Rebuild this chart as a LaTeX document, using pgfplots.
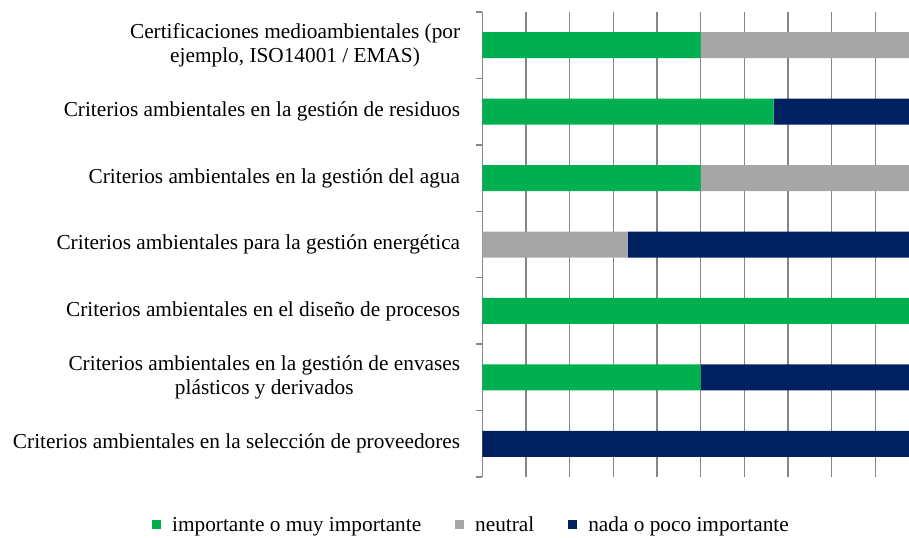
\documentclass[border=0pt]{standalone}
\usepackage{fontspec}
\setmainfont{Liberation Serif}
\usepackage{pgfplots}
\pgfplotsset{compat=1.18}

\definecolor{cgreen}{HTML}{00B050}
\definecolor{cgray}{HTML}{A6A6A6}
\definecolor{cnavy}{HTML}{002060}
\definecolor{cgrid}{HTML}{868686}

\newcommand{\lblfont}{\fontsize{21.3bp}{24.5bp}\selectfont}

\begin{document}
\begin{tikzpicture}
\useasboundingbox (0,0) rectangle (909bp,538bp);
\begin{axis}[
    at={(482.3bp,61bp)}, anchor=south west,
    scale only axis,
    width=426.7bp, height=465bp,
    xbar stacked,
    bar width=26bp,
    xmin=0, xmax=97.7,
    ymin=-0.5, ymax=6.5,
    axis lines*=left,
    x axis line style={draw=none},
    y axis line style={draw=cgrid, line width=1.3bp},
    xtick={10,20,...,90},
    xticklabels={},
    xmajorgrids=true,
    major grid style={draw=cgrid, line width=1.3bp},
    major tick length=0pt,
    ytick={0,1,2,3,4,5,6},
    minor ytick={-0.5,0.5,...,6.5},
    minor tick length=6bp,
    tick align=outside,
    minor tick style={draw=cgrid, line width=1.3bp},
    yticklabels={
        Criterios ambientales en la selección de proveedores,
        {Criterios ambientales en la gestión de envases\\plásticos y derivados},
        Criterios ambientales en el diseño de procesos,
        Criterios ambientales para la gestión energética,
        Criterios ambientales en la gestión del agua,
        Criterios ambientales en la gestión de residuos,
        {Certificaciones medioambientales (por\\ejemplo, ISO14001 / EMAS)}
    },
    yticklabel style={font=\lblfont, align=center, inner sep=0pt, xshift=-22bp},
    legend style={at={(-0.0253,-0.1032)}, anchor=center, draw=none,
        font=\lblfont, legend columns=3,
        /tikz/every odd column/.append style={column sep=9bp},
        /tikz/every even column/.append style={column sep=32bp}},
    legend image code/.code={\fill[#1] (0bp,-4.5bp) rectangle (9bp,4.5bp);},
]
\addplot[fill=cgreen, draw=none] coordinates {
    (0,0) (50,1) (100,2) (0,3) (50,4) (66.7,5) (50,6)};
\addplot[fill=cgray, draw=none] coordinates {
    (0,0) (0,1) (0,2) (33.3,3) (50,4) (0,5) (50,6)};
\addplot[fill=cnavy, draw=none] coordinates {
    (100,0) (50,1) (0,2) (66.7,3) (0,4) (33.3,5) (0,6)};
\legend{importante o muy importante, neutral, nada o poco importante}
\end{axis}
\end{tikzpicture}
\end{document}
